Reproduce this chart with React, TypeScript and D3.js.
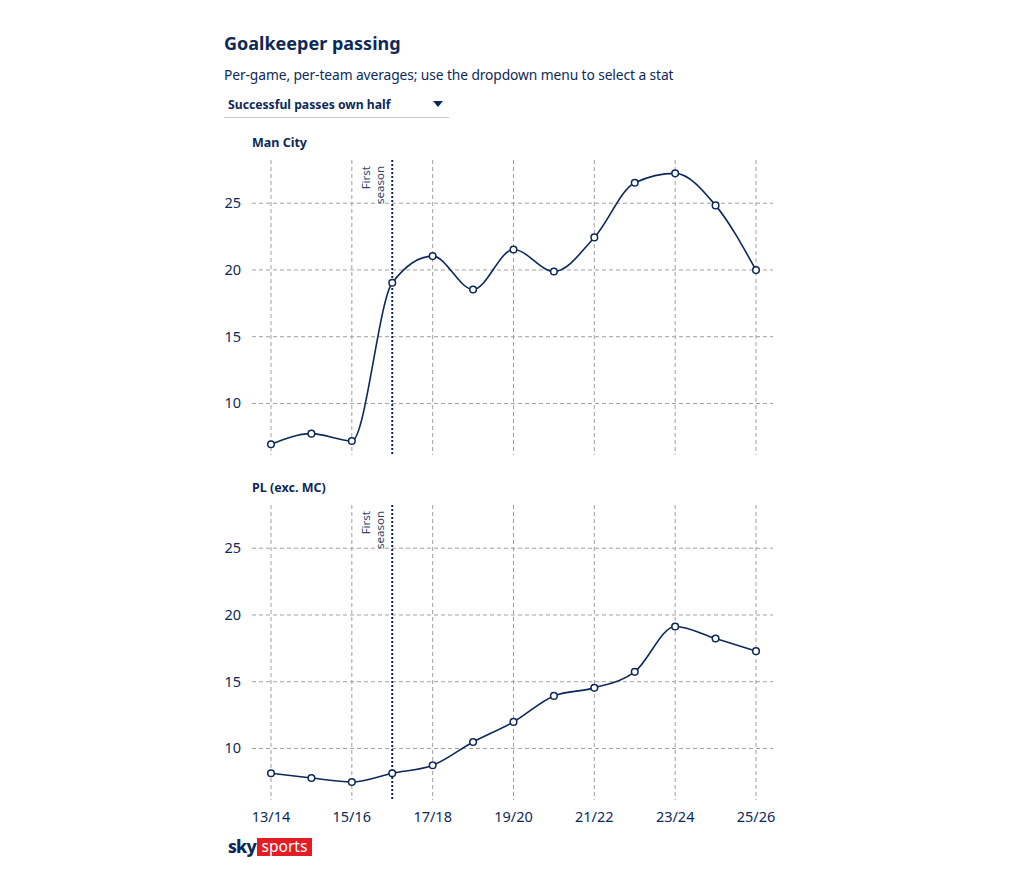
import { useEffect, useRef } from "react";
import * as d3 from "d3";

const seasons = [
  "13/14", "14/15", "15/16", "16/17", "17/18", "18/19", "19/20",
  "20/21", "21/22", "22/23", "23/24", "24/25", "25/26",
];
const manCity = [6.9, 7.7, 7.15, 19.0, 21.0, 18.5, 21.5, 19.85, 22.4, 26.5, 27.2, 24.8, 19.95];
const plExcMC = [8.1, 7.75, 7.45, 8.1, 8.7, 10.45, 11.95, 13.9, 14.5, 15.7, 19.1, 18.2, 17.25];
const yTicks = [10, 15, 20, 25];
const xTickLabels = ["13/14", "15/16", "17/18", "19/20", "21/22", "23/24", "25/26"];
const firstSeason = "16/17";

const NAVY = "hsl(218, 75%, 20%)";
const FONT = "'Noto Sans', sans-serif";

export default function App() {
  const ref = useRef<SVGSVGElement | null>(null);

  useEffect(() => {
    if (!ref.current) return;
    const svg = d3.select(ref.current);
    svg.selectAll("*").remove();

    svg.append("rect").attr("width", 1020).attr("height", 873).attr("fill", "#fff");

    // header
    svg.append("text")
      .attr("x", 224).attr("y", 50)
      .attr("font-family", FONT).attr("font-weight", 700).attr("font-size", 18)
      .attr("fill", NAVY).text("Goalkeeper passing");
    svg.append("text")
      .attr("x", 224).attr("y", 80)
      .attr("font-family", FONT).attr("font-size", 13.8)
      .attr("letter-spacing", -0.1)
      .attr("fill", NAVY).text("Per-game, per-team averages; use the dropdown menu to select a stat");
    svg.append("text")
      .attr("x", 228).attr("y", 109)
      .attr("font-family", FONT).attr("font-weight", 700).attr("font-size", 12.2)
      .attr("fill", NAVY).text("Successful passes own half");
    svg.append("path")
      .attr("d", "M433,101 L443,101 L438,107 Z")
      .attr("fill", NAVY);
    svg.append("line")
      .attr("x1", 224).attr("x2", 449).attr("y1", 117.5).attr("y2", 117.5)
      .attr("stroke", "#c8ccd4").attr("stroke-width", 1);

    const x = d3.scalePoint<string>().domain(seasons).range([271, 756]);

    const panels = [
      { name: "Man City", values: manCity, top: 160, bottom: 455, showX: false },
      { name: "PL (exc. MC)", values: plExcMC, top: 505, bottom: 800, showX: true },
    ];

    panels.forEach((p) => {
      const y = d3.scaleLinear().domain([6.1, 28.2]).range([p.bottom, p.top]);
      const g = svg.append("g");

      g.append("text")
        .attr("x", 252).attr("y", p.top - 13)
        .attr("font-family", FONT).attr("font-weight", 700).attr("font-size", 12.5)
        .attr("fill", NAVY).text(p.name);

      // horizontal grid
      g.selectAll(".hgrid").data(yTicks).enter().append("line")
        .attr("x1", 252).attr("x2", 773)
        .attr("y1", (d) => y(d) + 0.5).attr("y2", (d) => y(d) + 0.5)
        .attr("stroke", "#a0a0a0").attr("stroke-width", 1)
        .attr("stroke-dasharray", "4,3");

      // vertical grid
      g.selectAll(".vgrid").data(xTickLabels).enter().append("line")
        .attr("x1", (d) => x(d)!).attr("x2", (d) => x(d)!)
        .attr("y1", p.top).attr("y2", p.bottom)
        .attr("stroke", "#a0a0a0").attr("stroke-width", 1)
        .attr("stroke-dasharray", "4,3");

      // y labels
      g.selectAll(".ylab").data(yTicks).enter().append("text")
        .attr("x", 241).attr("y", (d) => y(d) + 5.5)
        .attr("text-anchor", "end")
        .attr("font-family", FONT).attr("font-size", 14.5)
        .attr("fill", NAVY).text((d) => String(d));

      // first season marker
      const fx = x(firstSeason)!;
      g.append("line")
        .attr("x1", fx).attr("x2", fx)
        .attr("y1", p.top).attr("y2", p.bottom)
        .attr("stroke", NAVY).attr("stroke-width", 2)
        .attr("stroke-dasharray", "2,2");
      const lab = g.append("text")
        .attr("transform", `translate(${fx - 8}, ${p.top + 6}) rotate(-90)`)
        .attr("text-anchor", "end")
        .attr("font-family", FONT).attr("font-size", 11.5)
        .attr("fill", "hsl(218, 35%, 30%)");
      lab.append("tspan").attr("x", 0).attr("dy", "-1.2em").text("First");
      lab.append("tspan").attr("x", 0).attr("dy", "1.2em").text("season");

      // line
      const line = d3.line<number>()
        .x((_, i) => x(seasons[i])!)
        .y((d) => y(d))
        .curve(d3.curveMonotoneX);
      g.append("path")
        .datum(p.values)
        .attr("d", line)
        .attr("fill", "none")
        .attr("stroke", NAVY)
        .attr("stroke-width", 1.6);

      g.selectAll(".pt").data(p.values).enter().append("circle")
        .attr("cx", (_, i) => x(seasons[i])!)
        .attr("cy", (d) => y(d))
        .attr("r", 3.3)
        .attr("fill", "#fff")
        .attr("stroke", NAVY)
        .attr("stroke-width", 1.5);

      if (p.showX) {
        g.selectAll(".xlab").data(xTickLabels).enter().append("text")
          .attr("x", (d) => x(d)!).attr("y", p.bottom + 22)
          .attr("text-anchor", "middle")
          .attr("font-family", FONT).attr("font-size", 14.5)
          .attr("fill", NAVY).text((d) => d);
      }
    });

    // logo
    svg.append("text")
      .attr("x", 228).attr("y", 853)
      .attr("font-family", FONT).attr("font-weight", 800).attr("font-size", 17.5)
      .attr("letter-spacing", -0.8)
      .attr("fill", NAVY).text("sky");
    svg.append("rect")
      .attr("x", 257).attr("y", 838).attr("width", 55).attr("height", 18)
      .attr("fill", "#e41c24");
    svg.append("text")
      .attr("x", 284.5).attr("y", 852)
      .attr("text-anchor", "middle")
      .attr("font-family", FONT).attr("font-size", 15.5)
      .attr("fill", "#fff").text("sports");
  }, []);

  return (
    <div style={{ position: "absolute", left: 0, top: 0 }}>
      <svg ref={ref} width={1020} height={873} style={{ display: "block" }} />
    </div>
  );
}
